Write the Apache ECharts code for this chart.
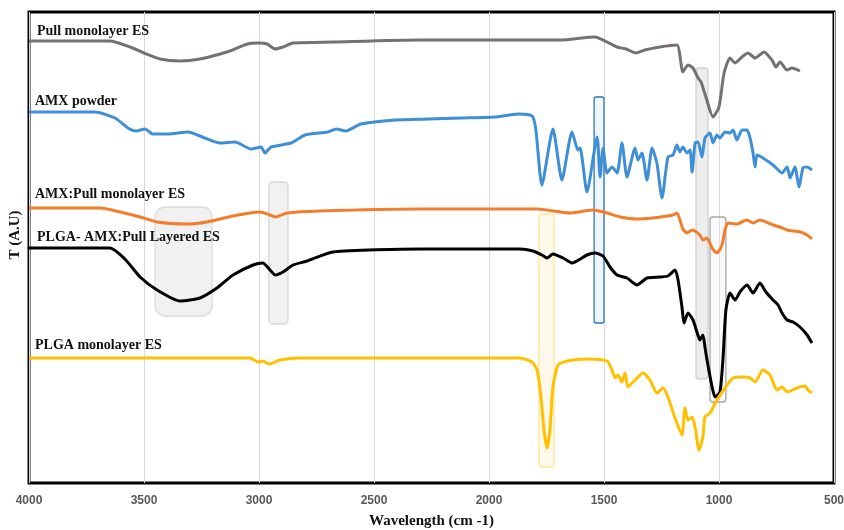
<!DOCTYPE html>
<html>
<head>
<meta charset="utf-8">
<script src="https://cdn.jsdelivr.net/npm/echarts@6/dist/echarts.min.js"></script>
<style>
  html, body { margin: 0; padding: 0; background: #fff; }
  #chart { width: 844px; height: 530px; }
</style>
</head>
<body>
<div id="chart"></div>
<script>
// FTIR spectra, x = wavenumber (cm-1), y = transmittance in arbitrary units (stacked)
const xTicks = [4000, 3500, 3000, 2500, 2000, 1500, 1000, 500];

const pullMono = [
  [4000,44.2],[3650,44.2],[3560,43.6],[3500,43.0],[3430,42.4],[3343,42.2],[3257,42.4],[3140,43.1],
  [3050,43.9],[3004,44.0],[2965,43.9],[2930,43.4],[2896,43.6],[2852,44.0],[2680,44.1],[2300,44.3],
  [1865,44.3],[1691,44.3],[1539,44.6],[1487,44.1],[1443,43.6],[1404,43.4],[1361,43.0],[1322,43.3],
  [1257,43.6],[1183,43.8],[1157,41.1],[1135,41.8],[1113,41.5],[1091,40.5],[1078,40.1],[1057,38.6],
  [1026,36.6],[1000,37.6],[978,41.0],[952,42.5],[930,42.0],[900,42.6],[874,43.0],[843,42.5],
  [804,43.1],[770,42.3],[752,41.6],[735,42.1],[704,41.3],[683,41.5],[648,41.2]
];

const amxPowder = [
  [4000,37.1],[3713,37.1],[3626,36.5],[3570,35.5],[3535,35.2],[3496,35.4],[3461,34.9],[3396,34.9],
  [3309,35.1],[3235,34.5],[3170,34.0],[3104,34.1],[3035,33.4],[2991,33.6],[2974,33.0],[2948,33.6],
  [2861,34.0],[2800,34.8],[2700,35.1],[2665,35.4],[2622,35.2],[2557,35.9],[2409,36.3],[2265,36.4],
  [2122,36.5],[1974,36.6],[1874,36.9],[1822,36.8],[1809,36.6],[1796,35.3],[1770,29.8],[1722,35.4],
  [1683,30.3],[1639,35.1],[1613,33.3],[1604,33.5],[1574,29.1],[1530,34.6],[1517,30.6],[1504,33.5],
  [1487,31.0],[1465,31.6],[1443,31.0],[1422,34.0],[1400,30.6],[1365,33.5],[1352,32.3],[1335,33.0],
  [1313,30.3],[1291,33.5],[1270,32.0],[1248,28.5],[1222,32.6],[1200,32.8],[1183,33.8],[1170,33.1],
  [1157,33.6],[1139,33.0],[1126,33.3],[1117,31.1],[1104,34.0],[1091,34.1],[1074,32.6],[1061,34.5],
  [1039,35.0],[1026,34.0],[1009,34.8],[996,34.5],[974,35.1],[952,35.0],[939,35.3],[922,34.3],
  [900,35.3],[878,35.3],[865,34.5],[852,33.0],[843,31.6],[835,32.8],[809,32.5],[765,31.8],
  [726,31.0],[704,31.6],[691,30.5],[670,31.6],[652,29.6],[635,31.5],[617,31.6],[596,31.3]
];

const amxPullMono = [
  [4000,27.5],[3691,27.5],[3604,27.1],[3517,26.6],[3443,26.1],[3313,25.9],[3226,26.1],[3113,26.7],
  [2996,27.1],[2952,26.8],[2930,26.6],[2878,27.0],[2735,27.2],[2300,27.4],[2157,27.4],[1791,27.4],
  [1648,27.0],[1548,27.3],[1487,27.0],[1430,26.6],[1357,26.4],[1287,26.5],[1200,26.8],[1183,27.0],
  [1157,25.4],[1139,25.0],[1117,25.3],[1083,24.8],[1070,24.3],[1052,24.5],[1030,23.5],[1009,23.0],
  [987,23.8],[974,25.3],[961,26.0],[922,25.9],[878,26.3],[852,26.0],[822,26.3],[765,25.8],
  [735,25.6],[704,25.3],[648,25.1],[617,24.8],[596,24.4]
];

const plgaAmxLayered = [
  [4000,23.5],[3648,23.5],[3583,22.4],[3517,20.6],[3443,19.3],[3343,18.2],[3257,18.5],[3183,19.5],
  [3113,20.8],[3026,21.8],[2983,22.0],[2952,21.3],[2930,20.8],[2896,21.1],[2852,21.8],[2791,22.2],
  [2678,23.1],[2300,23.4],[1865,23.4],[1809,23.2],[1770,22.8],[1748,22.5],[1722,22.9],[1678,22.5],
  [1639,22.0],[1574,22.8],[1539,23.0],[1504,22.7],[1474,21.6],[1443,20.8],[1400,20.5],[1357,19.8],
  [1313,20.5],[1257,20.6],[1222,20.7],[1191,21.3],[1178,20.3],[1161,17.6],[1152,16.0],[1135,17.0],
  [1113,16.3],[1096,15.1],[1083,14.3],[1070,14.8],[1061,13.6],[1052,12.3],[1030,9.6],[1017,8.6],
  [996,9.1],[983,12.3],[970,17.3],[952,19.0],[930,18.3],[909,19.1],[878,19.8],[852,19.0],
  [822,20.0],[796,19.1],[765,18.3],[743,17.8],[726,17.0],[704,16.3],[678,16.1],[648,15.6],
  [617,14.8],[596,14.0]
];

const plgaMono = [
  [4000,12.5],[3039,12.5],[3004,12.1],[2983,12.2],[2957,11.9],[2909,12.3],[2822,12.5],[1865,12.5],
  [1813,12.1],[1791,11.3],[1774,8.6],[1761,5.3],[1748,3.5],[1735,5.3],[1722,9.6],[1700,11.8],
  [1661,12.2],[1574,12.4],[1487,12.2],[1465,11.3],[1452,10.5],[1439,10.8],[1422,10.1],[1409,11.0],
  [1396,9.6],[1378,10.0],[1365,10.3],[1330,11.0],[1300,10.3],[1270,9.0],[1243,9.5],[1222,8.6],
  [1191,6.5],[1161,4.8],[1148,7.5],[1135,6.3],[1117,6.6],[1104,5.6],[1087,3.3],[1070,4.6],
  [1061,6.6],[1039,7.0],[1009,8.3],[974,9.5],[939,10.5],[896,10.6],[865,10.5],[843,10.1],
  [809,11.3],[778,10.8],[748,9.3],[726,9.6],[704,9.1],[661,9.5],[626,9.7],[613,9.3],[596,9.0]
];

// highlight bands: [wnFrom, wnTo, yBottom, yTop]
const bands = [
  [3452, 3204, 16.7, 27.6],
  [2957, 2874, 15.9, 30.1],
  [1783, 1717, 1.6, 26.9],
  [1543, 1500, 16.0, 38.6],
  [1100, 1048, 10.4, 41.5],
  [1039, 970, 8.1, 26.6]
];
const bandFill = ['rgba(238,238,238,0.85)', 'rgba(238,238,238,0.85)', 'rgba(255,245,222,0.6)',
  'rgba(222,235,247,0.5)', 'rgba(232,232,232,0.8)', 'rgba(240,240,240,0.3)'];
const bandStroke = ['#dcdcdc', '#d6d6d6', '#ffe699', '#2e75b6', '#d0d0d0', '#a6a6a6'];
const bandRadius = [10, 4, 3, 2, 3, 3];

const seriesNames = ['Pull monolayer ES', 'AMX powder', 'AMX:Pull monolayer ES',
  'PLGA- AMX:Pull Layered ES', 'PLGA monolayer ES'];
const seriesData = [pullMono, amxPowder, amxPullMono, plgaAmxLayered, plgaMono];
const seriesColors = ['#767171', '#3f8fd6', '#f47d2b', '#000000', '#ffc000'];
const labelPos = [[37, 31], [35, 101], [35, 194], [37, 237], [35, 345]];

const chart = echarts.init(document.getElementById('chart'));

const serif = '"Liberation Serif", "DejaVu Serif", serif';

const series = seriesData.map(function(d, i) {
  return {
    name: seriesNames[i],
    type: 'line',
    data: d,
    showSymbol: false,
    smooth: 0.2,
    z: 3,
    lineStyle: { color: seriesColors[i], width: 3 },
    itemStyle: { color: seriesColors[i] },
    animation: false
  };
});

series.unshift({
  type: 'custom',
  z: 2,
  data: bands,
  encode: { x: [0, 1], y: [2, 3] },
  animation: false,
  renderItem: function(params, api) {
    const p1 = api.coord([api.value(0), api.value(3)]);
    const p2 = api.coord([api.value(1), api.value(2)]);
    const i = params.dataIndex;
    return {
      type: 'rect',
      shape: {
        x: Math.min(p1[0], p2[0]), y: p1[1],
        width: Math.abs(p2[0] - p1[0]), height: p2[1] - p1[1],
        r: bandRadius[i]
      },
      style: { fill: bandFill[i], stroke: bandStroke[i], lineWidth: 1.3 }
    };
  }
});

chart.setOption({
  backgroundColor: '#fff',
  animation: false,
  grid: {
    left: 29, right: 10, top: 12, bottom: 47,
    outerBoundsMode: 'none',
    containLabel: false,
    show: true, borderColor: '#000', borderWidth: 3, backgroundColor: 'transparent'
  },
  xAxis: {
    type: 'value',
    inverse: true,
    min: 500, max: 4000, interval: 500,
    axisLine: { show: false },
    axisTick: { show: false },
    splitLine: { show: true, lineStyle: { color: '#d9d9d9', width: 1 } },
    axisLabel: {
      color: '#595959', fontSize: 12, fontWeight: 'bold',
      fontFamily: '"Liberation Sans", Arial, sans-serif', margin: 12,
      formatter: function(v) { return String(v); }
    },
    name: 'Wavelength (cm -1)',
    nameLocation: 'middle',
    nameGap: 31,
    nameTextStyle: { fontFamily: serif, fontWeight: 'bold', fontSize: 15, color: '#111' }
  },
  yAxis: {
    type: 'value',
    min: 0, max: 47.1,
    axisLine: { show: false },
    axisTick: { show: false },
    axisLabel: { show: false },
    splitLine: { show: false },
    name: 'T (A.U)',
    nameLocation: 'middle',
    nameGap: 6,
    nameTextStyle: { fontFamily: serif, fontWeight: 'bold', fontSize: 15, color: '#111', padding: [0, 0, 0, 25] }
  },
  graphic: seriesNames.map(function(n, i) {
    return {
      type: 'text',
      x: labelPos[i][0], y: labelPos[i][1],
      z: 10,
      style: {
        text: n, fill: '#111',
        font: 'bold 14px "Liberation Serif", serif',
        verticalAlign: 'middle'
      }
    };
  }),
  series: series
});
</script>
</body>
</html>
